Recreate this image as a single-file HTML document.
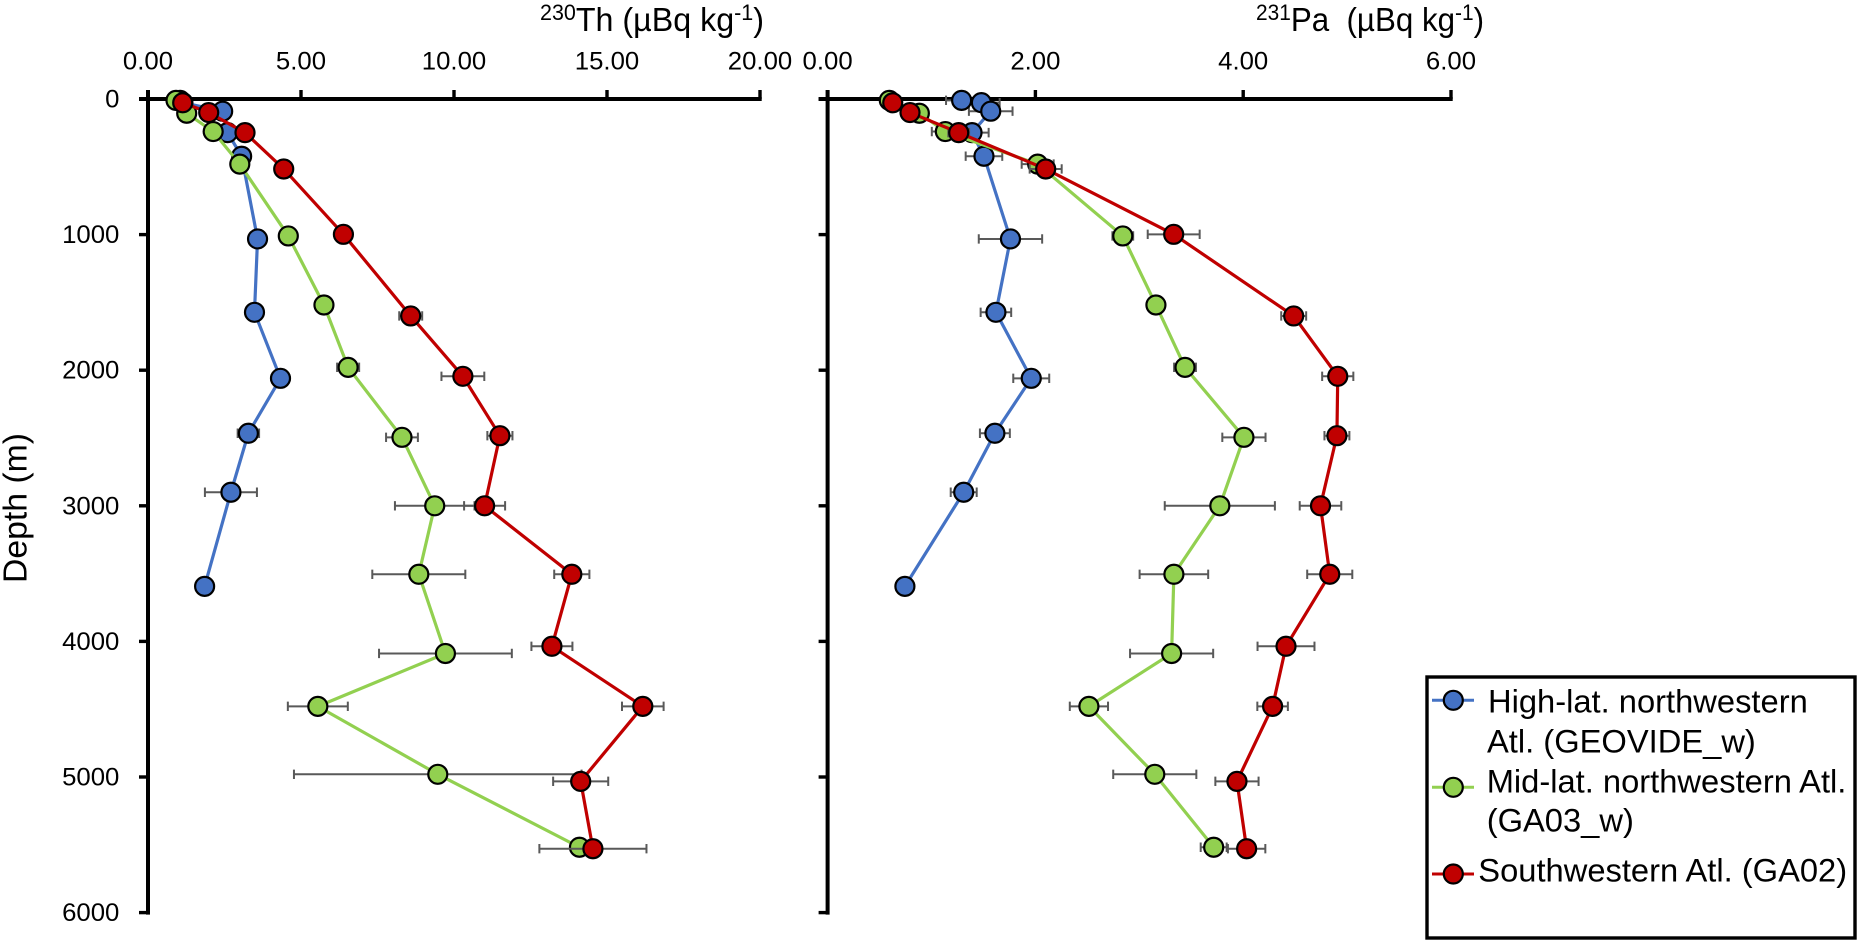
<!DOCTYPE html>
<html lang="en">
<head>
<meta charset="utf-8">
<title>230Th and 231Pa depth profiles</title>
<style>
html,body{margin:0;padding:0;background:#fff;width:1857px;height:940px;overflow:hidden}
svg{display:block}
text{font-family:"Liberation Sans",sans-serif;fill:#000}
</style>
</head>
<body>
<svg id="chart" xmlns="http://www.w3.org/2000/svg" width="1857" height="940" viewBox="0 0 1857 940">
  <rect x="0" y="0" width="1857" height="940" fill="#fff"/>
  <g id="panel-left"></g>
  <g id="panel-right"></g>
  <text x="540" y="31" font-size="33" textLength="224" lengthAdjust="spacingAndGlyphs"><tspan font-size="22" dy="-11">230</tspan><tspan dy="11">Th (µBq kg</tspan><tspan font-size="22" dy="-11">-1</tspan><tspan dy="11">)</tspan></text>
  <text x="1256" y="31" font-size="33" textLength="228" lengthAdjust="spacingAndGlyphs" xml:space="preserve"><tspan font-size="22" dy="-11">231</tspan><tspan dy="11">Pa  (µBq kg</tspan><tspan font-size="22" dy="-11">-1</tspan><tspan dy="11">)</tspan></text>
  <text transform="translate(26.5,583) rotate(-90)" x="0" y="0" font-size="33" textLength="150" lengthAdjust="spacingAndGlyphs">Depth (m)</text>
  <g>
    <rect x="1427" y="677" width="428" height="261" fill="#fff" stroke="#000" stroke-width="3.4"/>
    <g>
      <line x1="1432" y1="700.3" x2="1474" y2="700.3" stroke="#4472C4" stroke-width="3"/>
      <circle cx="1453.3" cy="700.3" r="9.5" fill="#4472C4" stroke="#000" stroke-width="2.2"/>
      <text x="1488" y="712.3" font-size="32.7">High-lat. northwestern</text>
      <text x="1487" y="752.7" font-size="32.7">Atl. (GEOVIDE_w)</text>
    </g>
    <g>
      <line x1="1432" y1="787.3" x2="1474" y2="787.3" stroke="#92D050" stroke-width="3"/>
      <circle cx="1453.3" cy="787.3" r="9.5" fill="#92D050" stroke="#000" stroke-width="2.2"/>
      <text x="1486.7" y="792.3" font-size="32.7">Mid-lat. northwestern Atl.</text>
      <text x="1486.7" y="831.7" font-size="32.7">(GA03_w)</text>
    </g>
    <g>
      <line x1="1432" y1="874" x2="1474" y2="874" stroke="#C00000" stroke-width="3"/>
      <circle cx="1453.3" cy="874" r="9.5" fill="#C00000" stroke="#000" stroke-width="2.2"/>
      <text x="1478.3" y="881.7" font-size="32.7">Southwestern Atl. (GA02)</text>
    </g>
  </g>
</svg>
<script>
// ---- tick labels ----
const depthTicks = [0, 1000, 2000, 3000, 4000, 5000, 6000];
const thTicks = [0, 5, 10, 15, 20];
const paTicks = [0, 2, 4, 6];

// ---- depths (m) ----
const depthHigh = [10, 27, 90, 248, 422, 1032, 1573, 2060, 2465, 2900, 3594];
const depthMid = [10, 105, 240, 480, 1010, 1519, 1979, 2495, 3000, 3505, 4089, 4479, 4980, 5518];
const depthSouth = [28, 100, 248, 516, 998, 1600, 2045, 2483, 3000, 3505, 4036, 4479, 5032, 5529];

// ---- 230Th values and errors ----
const thHigh = [1.05, 1.14, 2.44, 2.60, 3.06, 3.58, 3.48, 4.33, 3.28, 2.71, 1.85];
const thHighErr = [0.2, 0.2, 0.2, 0.2, 0.2, 0.2, 0.2, 0.2, 0.35, 0.85, 0];
const thMid = [0.915, 1.265, 2.13, 3.0, 4.585, 5.75, 6.54, 8.3, 9.37, 8.85, 9.72, 5.55, 9.47, 14.1];
const thMidErr = [0.1, 0.1, 0.15, 0.2, 0.2, 0.2, 0.36, 0.52, 1.3, 1.52, 2.17, 0.98, 4.7, 0.2];
const thSouth = [1.134, 1.984, 3.17, 4.435, 6.386, 8.585, 10.29, 11.5, 11.0, 13.85, 13.2, 16.17, 14.14, 14.54];
const thSouthErr = [0.1, 0.1, 0.15, 0.2, 0.2, 0.375, 0.7, 0.41, 0.67, 0.575, 0.67, 0.68, 0.9, 1.75];

// ---- 231Pa values and errors ----
const paHigh = [1.29, 1.48, 1.57, 1.39, 1.505, 1.76, 1.62, 1.96, 1.61, 1.31, 0.744];
const paHighErr = [0.15, 0.176, 0.21, 0.16, 0.176, 0.305, 0.147, 0.173, 0.144, 0.125, 0];
const paMid = [0.594, 0.883, 1.133, 2.022, 2.841, 3.16, 3.44, 4.007, 3.775, 3.333, 3.311, 2.515, 3.149, 3.716];
const paMidErr = [0.05, 0.05, 0.13, 0.154, 0.1, 0.08, 0.105, 0.208, 0.53, 0.33, 0.4, 0.184, 0.4, 0.125];
const paSouth = [0.627, 0.793, 1.262, 2.099, 3.331, 4.486, 4.91, 4.902, 4.744, 4.833, 4.412, 4.283, 3.94, 4.033];
const paSouthErr = [0.05, 0.05, 0.1, 0.154, 0.25, 0.12, 0.15, 0.12, 0.2, 0.217, 0.274, 0.147, 0.208, 0.18];

const NS = 'http://www.w3.org/2000/svg';
const yOf = d => 99 + 0.1356 * d;
const xTh = v => 148 + 30.6 * v;
const xPa = v => 827.6 + 103.9 * v;

function make(tag, attrs, parent) {
  const el = document.createElementNS(NS, tag);
  for (const k in attrs) el.setAttribute(k, attrs[k]);
  parent.appendChild(el);
  return el;
}

function stretch(el, factor) {
  const w = el.getComputedTextLength();
  el.setAttribute('textLength', (w * factor).toFixed(1));
  el.setAttribute('lengthAdjust', 'spacingAndGlyphs');
}

function drawAxes(g, xFn, ticks, showDepthLabels, prefix) {
  const x0 = xFn(0);
  const xEnd = xFn(ticks[ticks.length - 1]);
  const axisX = make('line', {x1: x0 - 9, y1: yOf(0), x2: xEnd + 1.7, y2: yOf(0), stroke: '#000', 'stroke-width': 4}, g);
  
  
  const axisY = make('line', {x1: x0, y1: yOf(0) - 9, x2: x0, y2: yOf(6000) + 2, stroke: '#000', 'stroke-width': 4}, g);
  
  
  ticks.forEach(t => {
    const tick = make('line', {x1: xFn(t), y1: yOf(0) - 9, x2: xFn(t), y2: yOf(0), stroke: '#000', 'stroke-width': 3.4}, g);
    
    
    const lab = make('text', {x: xFn(t), y: 69.5, 'font-size': 25, 'text-anchor': 'middle'}, g);
    
    
    lab.textContent = t.toFixed(2);
    stretch(lab, 1.03);
  });
  depthTicks.forEach(d => {
    const tick = make('line', {x1: x0 - 9, y1: yOf(d), x2: x0, y2: yOf(d), stroke: '#000', 'stroke-width': 3.4}, g);
    
    
    if (showDepthLabels) {
      const lab = make('text', {x: 119.4, y: yOf(d) + 8.5, 'font-size': 25, 'text-anchor': 'end'}, g);
      
      
      lab.textContent = String(d);
      stretch(lab, 1.03);
    }
  });
}

function drawSeries(g, xFn, depths, values, errors, color, name) {
  const group = make('g', {}, g);
  
  
  values.forEach((v, i) => {
    const e = errors[i];
    if (!e) return;
    const y = yOf(depths[i]);
    const x1 = xFn(v - e), x2 = xFn(v + e);
    const bar = make('path', {
      d: 'M' + x1 + ' ' + y + 'H' + x2 + 'M' + x1 + ' ' + (y - 4.7) + 'V' + (y + 4.7) + 'M' + x2 + ' ' + (y - 4.7) + 'V' + (y + 4.7),
      fill: 'none', stroke: '#595959', 'stroke-width': 2
    }, group);
    
    
  });
  const pts = values.map((v, i) => xFn(v) + ',' + yOf(depths[i])).join(' ');
  const line = make('polyline', {points: pts, fill: 'none', stroke: color, 'stroke-width': 3.2, 'stroke-linejoin': 'round'}, group);
  
  
  values.forEach((v, i) => {
    const c = make('circle', {cx: xFn(v), cy: yOf(depths[i]), r: 9.5, fill: color, stroke: '#000', 'stroke-width': 2.2}, group);
    
    
  });
}

const left = document.getElementById('panel-left');
const right = document.getElementById('panel-right');
drawAxes(left, xTh, thTicks, true, 'thorium');
drawAxes(right, xPa, paTicks, false, 'protactinium');
drawSeries(left, xTh, depthHigh, thHigh, thHighErr, '#4472C4', 'thorium-high-lat');
drawSeries(left, xTh, depthMid, thMid, thMidErr, '#92D050', 'thorium-mid-lat');
drawSeries(left, xTh, depthSouth, thSouth, thSouthErr, '#C00000', 'thorium-southwestern');
drawSeries(right, xPa, depthHigh, paHigh, paHighErr, '#4472C4', 'protactinium-high-lat');
drawSeries(right, xPa, depthMid, paMid, paMidErr, '#92D050', 'protactinium-mid-lat');
drawSeries(right, xPa, depthSouth, paSouth, paSouthErr, '#C00000', 'protactinium-southwestern');
</script>
</body>
</html>
